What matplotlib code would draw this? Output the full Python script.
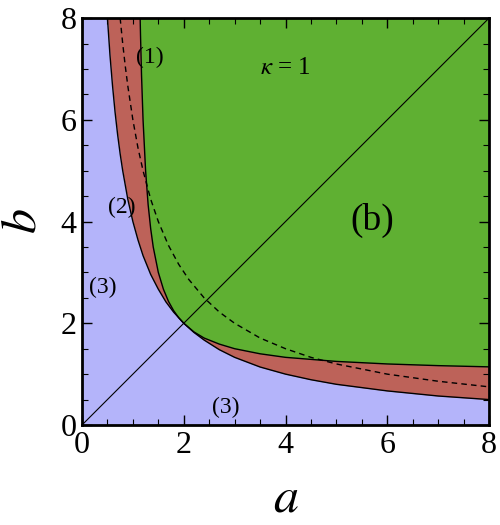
import matplotlib
matplotlib.use("Agg")
import matplotlib.pyplot as plt
from matplotlib.ticker import MultipleLocator

# boundary of region (3): b
a_low = [0.5, 0.55, 0.6, 0.65, 0.7, 0.75, 0.8, 0.9, 1.0, 1.1, 1.2, 1.35, 1.5,
         1.65, 1.8, 2.0, 2.2, 2.4, 2.7, 3.0, 3.5, 4.0, 4.5, 5.0, 6.0, 7.0, 8.0]
b_low = [8.0, 7.27, 6.67, 6.15, 5.71, 5.33, 5.0, 4.44, 4.0, 3.64, 3.33, 2.96, 2.67,
         2.42, 2.22, 2.0, 1.82, 1.67, 1.48, 1.33, 1.14, 1.0, 0.89, 0.8, 0.67, 0.57, 0.5]

# boundary of region (1)
a_up = [1.143, 1.15, 1.17, 1.2, 1.25, 1.3, 1.35, 1.4, 1.5, 1.6, 1.7, 1.8, 1.9, 2.0,
        2.2, 2.4, 2.7, 3.0, 3.5, 4.0, 5.0, 6.0, 7.0, 8.0]
b_up = [8.0, 7.67, 6.88, 6.0, 5.0, 4.33, 3.86, 3.5, 3.0, 2.67, 2.43, 2.25, 2.11, 2.0,
        1.83, 1.71, 1.59, 1.5, 1.4, 1.33, 1.25, 1.2, 1.167, 1.143]

# dashed curve
a_dash = [0.75, 0.8, 0.85, 0.9, 1.0, 1.1, 1.2, 1.35, 1.5, 1.7, 1.9, 2.1, 2.4, 2.7,
          3.0, 3.5, 4.0, 4.5, 5.0, 6.0, 7.0, 8.0]
b_dash = [8.0, 7.5, 7.06, 6.67, 6.0, 5.45, 5.0, 4.44, 4.0, 3.53, 3.16, 2.86, 2.5, 2.22,
          2.0, 1.71, 1.5, 1.33, 1.2, 1.0, 0.86, 0.75]

diag = [0, 8]

blue = "#b4b4fa"
red = "#bd6259"
green = "#5fb032"

plt.rcParams['font.family'] = ['Liberation Serif', 'DejaVu Serif']
plt.rcParams['mathtext.fontset'] = 'stix'

fig = plt.figure(figsize=(5, 5.25), dpi=100)
ax = fig.add_axes([0.164, 0.1905, 0.814, 0.775])

ax.set_facecolor(red)
ax.fill_between([0] + a_low, 0, [8] + b_low, color=blue, lw=0)
ax.fill_between(a_up, b_up, 8, color=green, lw=0)

ax.plot(a_low, b_low, color="black", lw=1.0)
ax.plot(a_up, b_up, color="black", lw=1.0)
ax.plot(a_dash, b_dash, color="black", lw=1.0, ls=(0, (4, 3)))
ax.plot(diag, diag, color="black", lw=0.8)

ax.set_xlim(0, 8)
ax.set_ylim(0, 8)
ax.xaxis.set_major_locator(MultipleLocator(2))
ax.yaxis.set_major_locator(MultipleLocator(2))
ax.xaxis.set_minor_locator(MultipleLocator(0.5))
ax.yaxis.set_minor_locator(MultipleLocator(0.5))
ax.tick_params(which="both", direction="in", top=True, right=True, labelsize=23, pad=4)
ax.tick_params(which="major", length=7, width=1)
ax.tick_params(which="minor", length=4, width=0.8)
for s in ax.spines.values():
    s.set_linewidth(2)

ax.set_xlabel("$a$", fontsize=36, labelpad=12)
ax.set_ylabel("$b$", fontsize=36, labelpad=10)

ax.text(1.34, 7.23, "(1)", fontsize=17, ha="center", va="center")
ax.text(0.79, 4.27, "(2)", fontsize=17, ha="center", va="center")
ax.text(0.41, 2.71, "(3)", fontsize=17, ha="center", va="center")
ax.text(2.82, 0.35, "(3)", fontsize=17, ha="center", va="center")
ax.text(4.0, 7.02, "$\\kappa$ = 1", fontsize=18, ha="center", va="center")
ax.text(5.71, 4.03, "(b)", fontsize=27, ha="center", va="center")

fig.savefig("out.png", dpi=100)
